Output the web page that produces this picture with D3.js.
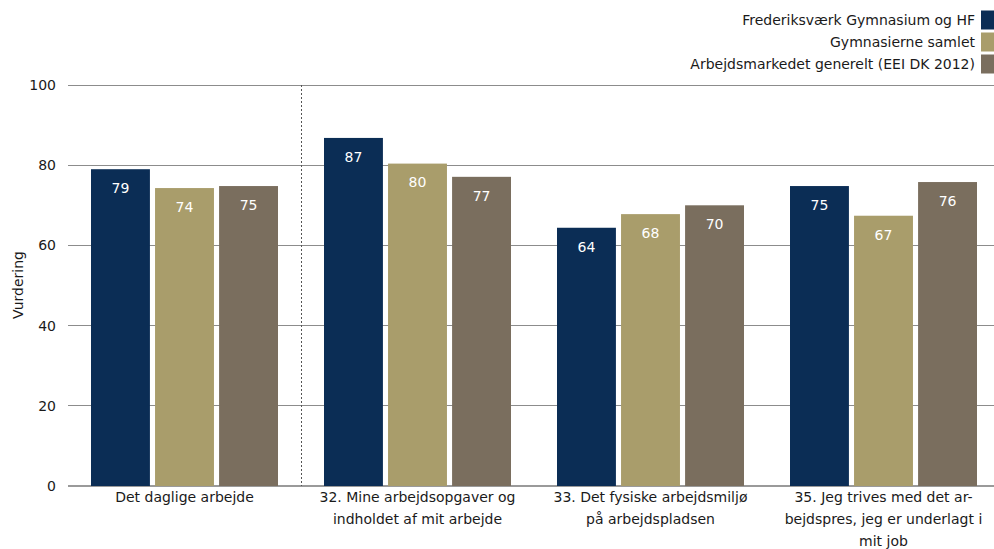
<!DOCTYPE html>
<html><head><meta charset="utf-8">
<script src="https://cdn.jsdelivr.net/npm/d3@7"></script>
<style>body{margin:0;background:#fff}svg{display:block;font-family:"DejaVu Sans",sans-serif}</style>
</head><body><svg id="c" width="994" height="549"></svg>
<script>
const categories = [["Det daglige arbejde"],["32. Mine arbejdsopgaver og","indholdet af mit arbejde"],["33. Det fysiske arbejdsmiljø","på arbejdspladsen"],["35. Jeg trives med det ar-","bejdspres, jeg er underlagt i","mit job"]];
const seriesNames = ["Frederiksværk Gymnasium og HF","Gymnasierne samlet","Arbejdsmarkedet generelt (EEI DK 2012)"];
const frederiksvaerk = [79.0, 86.8, 64.4, 74.8];
const gymnasierne = [74.3, 80.4, 67.8, 67.4];
const arbejdsmarkedet = [74.8, 77.1, 70.0, 75.8];
const yTicks = [0, 20, 40, 60, 80, 100];
const colors = ["#0b2d55", "#a99d6b", "#7a6e5e"];
const seriesValues = [frederiksvaerk, gymnasierne, arbejdsmarkedet];

const svg = d3.select("#c");
const fontSize = 14;
const y = d3.scaleLinear().domain([0,100]).range([486,85]);
const x0 = d3.scaleBand().domain(d3.range(categories.length)).range([68,1000]);
const x1 = d3.scaleBand().domain(d3.range(3)).range([23, x0.bandwidth()-23]).paddingInner(0.08);

// gridlines
svg.append("g").selectAll("line").data(yTicks).join("line")
  .attr("x1",68).attr("x2",994).attr("y1",d=>y(d)).attr("y2",d=>y(d))
  .attr("stroke",d=>d===0?"#9a9a9a":"#8c8c8c").attr("stroke-width",d=>d===0?2:1).attr("shape-rendering","crispEdges");
svg.append("g").selectAll("text").data(yTicks).join("text")
  .attr("x",56).attr("y",d=>y(d)).attr("dy","0.35em").attr("text-anchor","end")
  .attr("font-size",fontSize).attr("fill","#1a1a1a").text(d=>d);

// separator
svg.append("line").attr("x1",x0(1)).attr("x2",x0(1)).attr("y1",y(100)).attr("y2",y(0))
  .attr("stroke","#555").attr("stroke-dasharray","2,2").attr("stroke-width",1).attr("shape-rendering","crispEdges");

// bars
const g = svg.append("g");
seriesValues.forEach((vals,si)=>{
  vals.forEach((v,ci)=>{
    const bx = x0(ci)+x1(si);
    g.append("rect").attr("x",bx).attr("width",x1.bandwidth()).attr("y",y(v)).attr("height",y(0)-y(v)).attr("fill",colors[si]);
    g.append("text").attr("x",bx+x1.bandwidth()/2).attr("y",y(v)+19).attr("dy","0.35em").attr("text-anchor","middle")
      .attr("font-size",fontSize).attr("fill","#fff").text(Math.round(v));
  });
});

// x labels
categories.forEach((lines,ci)=>{
  const t = svg.append("text").attr("text-anchor","middle").attr("font-size",fontSize).attr("fill","#1a1a1a");
  lines.forEach((l,li)=>{
    t.append("tspan").attr("x",x0(ci)+x0.bandwidth()/2).attr("y",497+li*22).attr("dy","0.35em").text(l);
  });
});

// y title
svg.append("text").attr("transform","translate(18,285) rotate(-90)").attr("text-anchor","middle").attr("dy","0.35em")
  .attr("font-size",fontSize).attr("fill","#1a1a1a").text("Vurdering");

// legend
const legY = [20, 42, 64];
seriesNames.forEach((n,i)=>{
  svg.append("rect").attr("x",981).attr("y",legY[i]-9.5).attr("width",13).attr("height",19).attr("fill",colors[i]);
  svg.append("text").attr("x",975).attr("y",legY[i]).attr("dy","0.35em").attr("text-anchor","end")
    .attr("font-size",fontSize).attr("fill","#1a1a1a").text(n);
});
</script></body></html>
